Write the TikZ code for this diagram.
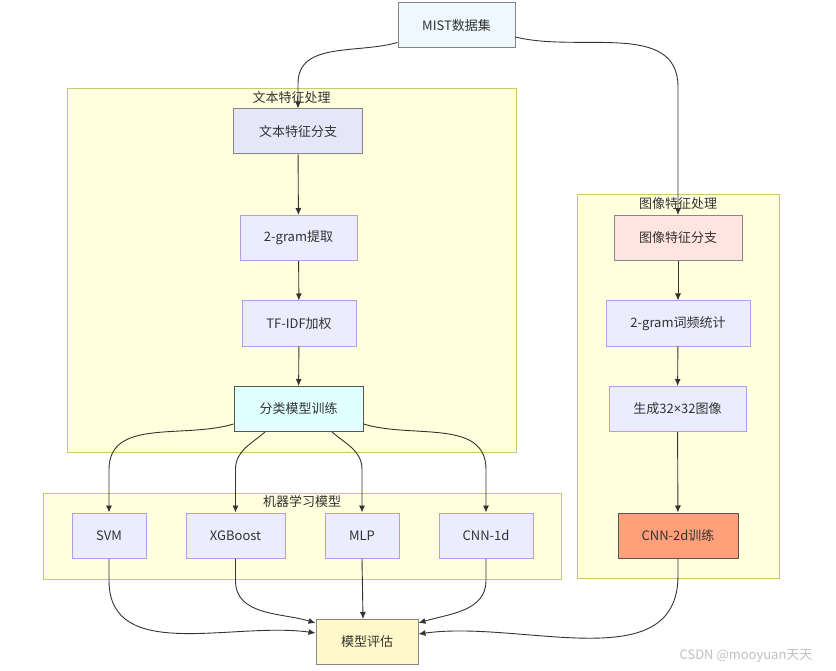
\documentclass[tikz,border=0pt]{standalone}
\usepackage{fontspec}
\setmainfont{Noto Sans CJK SC}
\newfontfamily\latinfont{Noto Sans}
\usetikzlibrary{arrows.meta}
\definecolor{grpfill}{HTML}{FFFFDE}
\definecolor{grpline}{HTML}{C8C86A}
\definecolor{procfill}{HTML}{ECECFF}
\definecolor{procline}{HTML}{B39DE6}
\definecolor{keyline}{HTML}{858585}
\definecolor{darkline}{HTML}{555555}
\definecolor{textcol}{HTML}{333333}
\definecolor{mistfill}{HTML}{F0F8FF}
\definecolor{branchfill}{HTML}{E6E6FA}
\definecolor{clsfill}{HTML}{E0FFFF}
\definecolor{evalfill}{HTML}{FFF8C8}
\definecolor{imgfill}{HTML}{FFE4E1}
\definecolor{cnnfill}{HTML}{FFA07A}
\tikzset{>={Latex[length=7pt,width=6pt]},
  proc/.style={draw=procline, fill=procfill, line width=1pt, minimum height=45pt,
    text=textcol, font=\fontsize{13}{15}\selectfont},
  cluster/.style={draw=grpline, fill=grpfill, line width=1pt},
  grplabel/.style={text=textcol, font=\fontsize{13}{15}\selectfont, inner sep=0pt},
  link/.style={->, draw=textcol, line width=0.9pt}}
\begin{document}
\begin{tikzpicture}[x=1pt,y=1pt]
    \useasboundingbox (0,0) rectangle (836,-671);
    \node[cluster, minimum width=449pt, minimum height=363pt] (textgrp) at (291.5,-270.5) {};
    \node[cluster, minimum width=518pt, minimum height=86pt] (mlgrp) at (302,-536) {};
    \node[cluster, minimum width=202pt, minimum height=383pt] (imggrp) at (678,-386.5) {};
    \node[grplabel] (textlbl) at ([yshift=-9pt]textgrp.north) {文本特征处理};
    \node[grplabel] (mllbl) at ([yshift=-9pt]mlgrp.north) {机器学习模型};
    \node[grplabel] (imglbl) at ([yshift=-9pt]imggrp.north) {图像特征处理};
    \node[proc, fill=mistfill, draw=keyline, minimum width=117pt] (mist) at (456.5,-25.5) {MIST数据集};
    \node[proc, fill=branchfill, draw=keyline, minimum width=129pt] (tb) at (298,-131.5) {文本特征分支};
    \node[proc, minimum width=117pt] (tg) at (298.5,-238) {2-gram提取};
    \node[proc, minimum width=114pt] (tf) at (299,-323.5) {TF-IDF加权};
    \node[proc, fill=clsfill, draw=darkline, minimum width=129pt] (cls) at (298.5,-409) {分类模型训练};
    \node[proc, minimum width=74pt] (svm) at (109,-535.5) {SVM};
    \node[proc, minimum width=99pt] (xgb) at (235.5,-535.5) {XGBoost};
    \node[proc, minimum width=74pt] (mlp) at (362,-535.5) {MLP};
    \node[proc, minimum width=94pt] (cnn1) at (486,-535.5) {CNN-1d};
    \node[proc, fill=evalfill, draw=keyline, minimum width=102pt] (ev) at (367,-642) {模型评估};
    \node[proc, fill=imgfill, draw=keyline, minimum width=128pt] (ib) at (678,-238) {图像特征分支};
    \node[proc, minimum width=144pt] (ig) at (678,-323.5) {2-gram词频统计};
    \node[proc, minimum width=137pt] (gen) at (677.5,-409) {生成32{\latinfont ×}32图像};
    \node[proc, fill=cnnfill, draw=darkline, minimum width=120pt] (cnn2) at (678,-535.5) {CNN-2d训练};
    \draw[link] ([yshift=6pt]mist.south west) to[out=196,in=90] ([yshift=25pt]tb.north) -- (tb.north);
    \draw[link] ([yshift=-11.5pt]mist.east) to[out=-14,in=90] ([yshift=128pt]ib.north) -- (ib.north);
    \draw[link] (tb) -- (tg);
    \draw[link] (tg) -- (tf);
    \draw[link] (tf) -- (cls);
    \draw[link] (ib) -- (ig);
    \draw[link] (ig) -- (gen);
    \draw[link] (gen) -- (cnn2);
    \draw[link] ([yshift=-15pt]cls.west) to[out=197,in=90] ([yshift=43pt]svm.north) -- (svm.north);
    \draw[link] ([xshift=-33.5pt]cls.south) to[out=221,in=90] ([yshift=43pt]xgb.north) -- (xgb.north);
    \draw[link] ([xshift=33.5pt]cls.south) to[out=-41,in=90] ([yshift=43pt]mlp.north) -- (mlp.north);
    \draw[link] ([yshift=-15pt]cls.east) to[out=-17,in=90] ([yshift=43pt]cnn1.north) -- (cnn1.north);
    \draw[link] (svm.south) -- ++(0,-22) to[out=-90,in=172] ([yshift=9pt]ev.west);
    \draw[link] (xgb.south) -- ++(0,-22) to[out=-90,in=163] ([yshift=19pt]ev.west);
    \draw[link] (mlp.south) -- ([xshift=-4pt]ev.north);
    \draw[link] (cnn1.south) -- ++(0,-22) to[out=-90,in=17] ([yshift=19pt]ev.east);
    \draw[link] (cnn2.south) -- ++(0,-17) to[out=-90,in=8] ([yshift=8pt]ev.east);
    \node[text=black!25, font=\fontsize{13}{15}\selectfont] (mark) at (746,-656) {CSDN @mooyuan天天};
\end{tikzpicture}
\end{document}
